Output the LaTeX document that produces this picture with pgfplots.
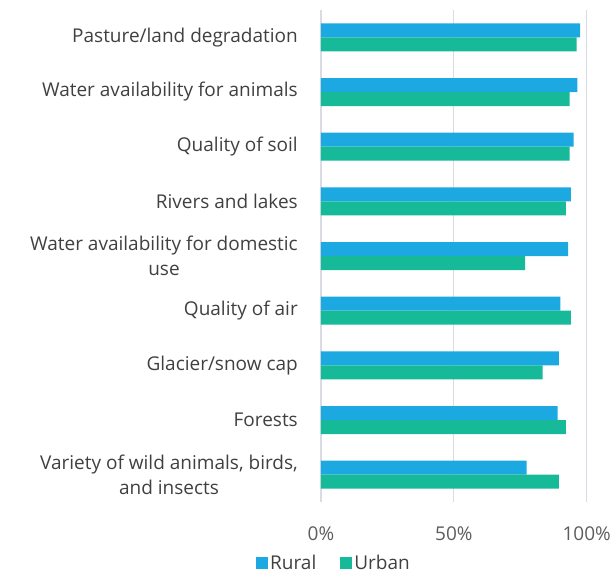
\documentclass[border=0pt]{standalone}
\usepackage{pgfplots}
\pgfplotsset{compat=1.18}
\usepackage{fontspec}
\setmainfont{Open Sans}
\definecolor{rural}{HTML}{1CA9E1}
\definecolor{urban}{HTML}{16B998}
\definecolor{gridc}{HTML}{D9DCE4}
\definecolor{txt}{HTML}{404040}
\begin{document}
\begin{tikzpicture}
\useasboundingbox (-321pt,-72pt) rectangle (291pt,502pt);
\begin{axis}[
  at={(0,0)}, anchor=south west,
  xbar,
  scale only axis,
  width=265.7pt, height=492pt,
  xmin=0, xmax=100,
  ymin=-0.5, ymax=8.5,
  bar width=14pt,
  axis line style={draw=none},
  major tick length=0pt,
  xtick={0,50,100},
  xticklabels={0\%,50\%,100\%},
  xmajorgrids,
  grid style={gridc, line width=1.2pt},
  ytick={0,...,8},
  yticklabels={
    {Variety of wild animals, birds,\\and insects},
    Forests,
    Glacier/snow cap,
    Quality of air,
    {Water availability for domestic\\use},
    Rivers and lakes,
    Quality of soil,
    Water availability for animals,
    Pasture/land degradation},
  yticklabel style={font=\fontsize{19}{25}\selectfont, text=txt, align=center, anchor=east, inner sep=0pt, xshift=-23pt},
  xticklabel style={font=\fontsize{19}{22}\selectfont, text=txt!85, anchor=north, inner sep=0pt, yshift=-25pt},
  legend style={draw=none, fill=none, at={(rel axis cs:0,0)}, anchor=north west, xshift=-68pt, yshift=-49pt,
    font=\fontsize{19}{22}\selectfont, text=txt, legend columns=2,
    /tikz/every even column/.append style={column sep=22pt}},
  legend image code/.code={\fill[#1] (0pt,-6pt) rectangle (12pt,6pt);},
]
\addplot[fill=rural, draw=none, bar shift=7pt] coordinates {
  (77.4,0) (89.1,1) (89.5,2) (90.1,3) (93.0,4) (94.0,5) (95.1,6) (96.5,7) (97.5,8)
};
\addplot[fill=urban, draw=none, bar shift=-7pt] coordinates {
  (89.5,0) (92.2,1) (83.4,2) (94.0,3) (76.8,4) (92.2,5) (93.6,6) (93.6,7) (96.2,8)
};
\legend{Rural, Urban}
\end{axis}
\end{tikzpicture}
\end{document}
